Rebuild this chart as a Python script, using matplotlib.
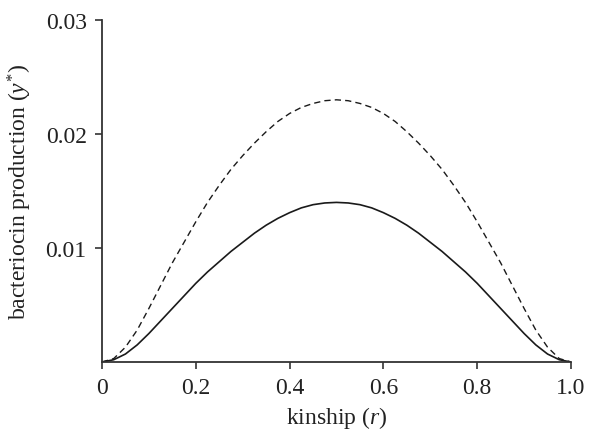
import matplotlib
matplotlib.use("Agg")
import matplotlib.pyplot as plt

r = [0, 0.025, 0.05, 0.075, 0.1, 0.125, 0.15, 0.175, 0.2, 0.225, 0.25, 0.275,
     0.3, 0.325, 0.35, 0.375, 0.4, 0.425, 0.45, 0.475, 0.5,
     0.525, 0.55, 0.575, 0.6, 0.625, 0.65, 0.675, 0.7, 0.725, 0.75, 0.775,
     0.8, 0.825, 0.85, 0.875, 0.9, 0.925, 0.95, 0.975, 1.0]
y_solid = [0, 0.0002, 0.0007, 0.0015, 0.0025, 0.0036, 0.0047, 0.0058, 0.0069,
           0.0079, 0.0088, 0.0097, 0.0105, 0.0113, 0.0120, 0.0126, 0.0131,
           0.01352, 0.0138, 0.01395, 0.0140,
           0.01395, 0.0138, 0.01352, 0.0131, 0.0126, 0.0120, 0.0113, 0.0105,
           0.0097, 0.0088, 0.0079, 0.0069, 0.0058, 0.0047, 0.0036, 0.0025,
           0.0015, 0.0007, 0.0002, 0]
y_dashed = [0, 0.0003, 0.0013, 0.0028, 0.0047, 0.0067, 0.0087, 0.0105, 0.0123,
            0.0140, 0.0155, 0.0169, 0.0181, 0.0192, 0.0202, 0.0211, 0.0218,
            0.02233, 0.02268, 0.02292, 0.0230,
            0.02292, 0.02268, 0.02233, 0.0218, 0.0211, 0.0202, 0.0192, 0.0181,
            0.0169, 0.0155, 0.0140, 0.0123, 0.0105, 0.0087, 0.0067, 0.0047,
            0.0028, 0.0013, 0.0003, 0]
xticks = [0, 0.2, 0.4, 0.6, 0.8, 1.0]
xticklabels = ["0", "0.2", "0.4", "0.6", "0.8", "1.0"]
yticks = [0.01, 0.02, 0.03]
yticklabels = ["0.01", "0.02", "0.03"]

plt.rcParams['font.family'] = ['Liberation Serif', 'DejaVu Serif']
plt.rcParams['mathtext.fontset'] = 'custom'
plt.rcParams['mathtext.it'] = 'Liberation Serif:italic'
plt.rcParams['mathtext.rm'] = 'Liberation Serif'

fig = plt.figure(figsize=(5.98, 4.31), dpi=100)
ax = fig.add_axes([102/598, 1-363/431, (571-102)/598, (363-21)/431])

ax.plot(r, y_solid, color='#1a1a1a', lw=1.2, solid_joinstyle='round')
ax.plot(r, y_dashed, color='#1a1a1a', lw=1.0, linestyle=(0, (4.5, 3)))

ax.set_xlim(0, 1.0)
ax.set_ylim(0, 0.03)
ax.set_xticks(xticks)
ax.set_xticklabels(xticklabels)
ax.set_yticks(yticks)
ax.set_yticklabels(yticklabels)
for s in ['top', 'right']:
    ax.spines[s].set_visible(False)
for s in ['left', 'bottom']:
    ax.spines[s].set_linewidth(1.3)
    ax.spines[s].set_color('#333333')
ax.tick_params(direction='out', length=5, width=1.2, color='#333333',
               labelsize=17, labelcolor='#222222', pad=6)
ax.set_xlabel(r'kinship ($r$)', fontsize=17, color='#222222', labelpad=4)
ax.set_ylabel(r'bacteriocin production ($y^{*}$)', fontsize=17, color='#222222', labelpad=8)

fig.savefig('out.png', dpi=100)
